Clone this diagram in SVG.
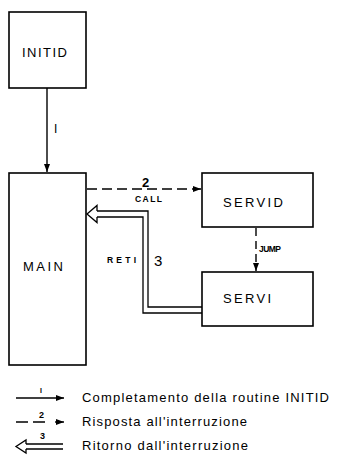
<svg xmlns="http://www.w3.org/2000/svg" width="337" height="459" viewBox="0 0 337 459">
<defs>
<style>
.box{fill:#fff;stroke:#000;stroke-width:1.6}
.ln{fill:none;stroke:#000;stroke-width:1.4}
.dash{fill:none;stroke:#000;stroke-width:1.4;stroke-dasharray:10 5}
.dbl{fill:none;stroke:#000;stroke-width:1.3}
.lbl{font-family:"Liberation Sans",Arial,sans-serif;font-size:13px;fill:#000}
.sm{font-family:"Liberation Sans",Arial,sans-serif;font-size:8.5px;font-weight:bold;fill:#000}
.num{font-family:"Liberation Sans",Arial,sans-serif;fill:#000}
.leg{font-family:"Liberation Sans",Arial,sans-serif;font-size:13px;fill:#000}
</style>
<marker id="ah" viewBox="0 0 8 8" refX="8" refY="4" markerWidth="8" markerHeight="8" markerUnits="userSpaceOnUse" orient="auto">
<path d="M0,1 L8,4 L0,7 Z" fill="#000"/>
</marker>
</defs>

<g id="INITID">
<rect class="box" x="9" y="12" width="77" height="76"/>
<text class="lbl" x="22" y="57" textLength="45" lengthAdjust="spacing">INITID</text>
</g>
<g id="MAIN">
<rect class="box" x="9" y="173" width="77" height="192"/>
<text class="lbl" x="23" y="271" textLength="40" lengthAdjust="spacing">MAIN</text>
</g>
<g id="SERVID">
<rect class="box" x="202" y="173" width="111" height="54"/>
<text class="lbl" x="223" y="207" textLength="60" lengthAdjust="spacing">SERVID</text>
</g>
<g id="SERVI">
<rect class="box" x="202" y="272" width="111" height="54"/>
<text class="lbl" x="223" y="303" textLength="48" lengthAdjust="spacing">SERVI</text>
</g>

<g id="connectors">
<line class="ln" x1="47" y1="88" x2="47" y2="172" marker-end="url(#ah)"/>
<text class="num" x="54" y="133" style="font-size:12px">I</text>

<line class="dash" x1="87" y1="189" x2="201" y2="189" marker-end="url(#ah)"/>
<text class="num" x="142" y="187" style="font-size:13px;font-weight:bold">2</text>
<text class="sm" x="135" y="202" textLength="27" lengthAdjust="spacing">CALL</text>

<line class="dash" x1="256" y1="228" x2="256" y2="271" style="stroke-dasharray:8 5" marker-end="url(#ah)"/>
<text class="sm" x="259" y="252" style="font-size:8.5px" textLength="22" lengthAdjust="spacing">JUMP</text>

<path class="dbl" d="M97,211 H148 V307 H202"/>
<path class="dbl" d="M97,217 H143 V313 H202"/>
<path class="dbl" d="M97,211 V205.5 L87,214 L97,222.5 V217"/>
<text class="sm" x="107" y="263" textLength="29" lengthAdjust="spacing">RETI</text>
<text class="num" x="154" y="266" style="font-size:15px">3</text>
</g>

<g id="legend">
<line class="ln" x1="16" y1="398" x2="64" y2="398" marker-end="url(#ah)"/>
<text class="num" x="40" y="393" style="font-size:7px;font-weight:bold">I</text>
<text class="leg" x="82" y="402" textLength="247" lengthAdjust="spacing">Completamento della routine INITID</text>

<path class="ln" d="M16,422 H28 M33,422 H45"/>
<line class="ln" x1="55" y1="422" x2="64" y2="422" marker-end="url(#ah)"/>
<text class="sm" x="39" y="418" style="font-size:9px">2</text>
<text class="leg" x="82" y="426" textLength="165" lengthAdjust="spacing">Risposta all'interruzione</text>

<path class="dbl" d="M26,444 H63 M26,449 H63"/>
<path class="dbl" d="M26,444 V440 L16,446.5 L26,453 V449"/>
<text class="sm" x="40" y="439" style="font-size:9px">3</text>
<text class="leg" x="82" y="450" textLength="166" lengthAdjust="spacing">Ritorno dall'interruzione</text>
</g>
</svg>
